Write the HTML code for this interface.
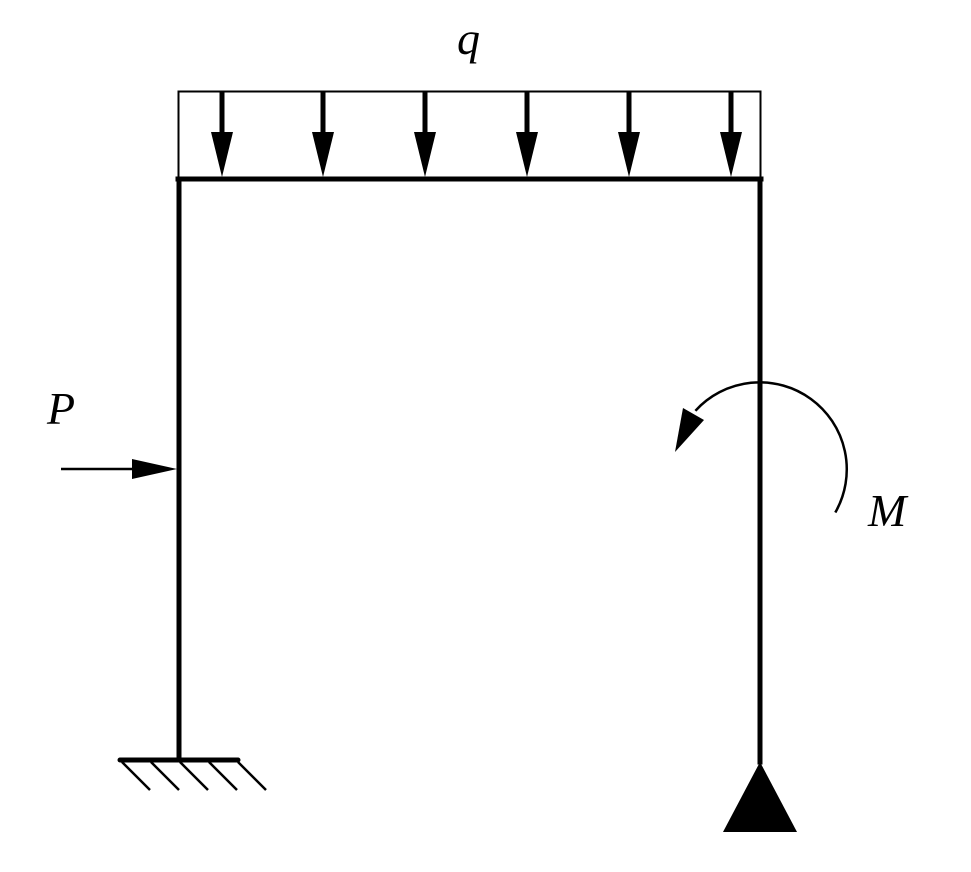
<!DOCTYPE html>
<html><head><style>html,body{margin:0;padding:0;background:#fff}svg{display:block}</style></head>
<body>
<svg width="971" height="872" viewBox="0 0 971 872" xmlns="http://www.w3.org/2000/svg">
<g font-family="Liberation Serif, serif" font-style="italic" font-size="46" fill="#000">
<text x="457" y="54">q</text>
<text x="47" y="424">P</text>
<text x="868" y="526">M</text>
</g>
<rect x="178.5" y="91.5" width="582" height="87" fill="none" stroke="#000" stroke-width="2"/>
<g stroke="#000" stroke-width="5">
<line x1="222" y1="91" x2="222" y2="135"/>
<line x1="323" y1="91" x2="323" y2="135"/>
<line x1="425" y1="91" x2="425" y2="135"/>
<line x1="527" y1="91" x2="527" y2="135"/>
<line x1="629" y1="91" x2="629" y2="135"/>
<line x1="731" y1="91" x2="731" y2="135"/>
</g>
<g fill="#000">
<polygon points="211,132 233,132 222,177"/>
<polygon points="312,132 334,132 323,177"/>
<polygon points="414,132 436,132 425,177"/>
<polygon points="516,132 538,132 527,177"/>
<polygon points="618,132 640,132 629,177"/>
<polygon points="720,132 742,132 731,177"/>
</g>
<g stroke="#000" stroke-width="5" fill="none" stroke-linecap="square">
<line x1="178" y1="179" x2="761" y2="179"/>
<line x1="179" y1="179" x2="179" y2="760"/>
<line x1="760" y1="179" x2="760" y2="762"/>
</g>
<line x1="120" y1="760" x2="238" y2="760" stroke="#000" stroke-width="5" stroke-linecap="round"/>
<g stroke="#000" stroke-width="2.5">
<line x1="122" y1="762" x2="150" y2="790"/>
<line x1="151" y1="762" x2="179" y2="790"/>
<line x1="180" y1="762" x2="208" y2="790"/>
<line x1="209" y1="762" x2="237" y2="790"/>
<line x1="238" y1="762" x2="266" y2="790"/>
</g>
<polygon points="760,762 723,832 797,832" fill="#000"/>
<line x1="61" y1="469" x2="140" y2="469" stroke="#000" stroke-width="2.5"/>
<polygon points="132,459 177,469 132,479" fill="#000"/>
<path d="M835.3,512.5 A87,87 0 0 0 695.4,410.8" fill="none" stroke="#000" stroke-width="2.5"/>
<polygon points="675,452 683,408 704,420" fill="#000"/>
</svg>
</body></html>
